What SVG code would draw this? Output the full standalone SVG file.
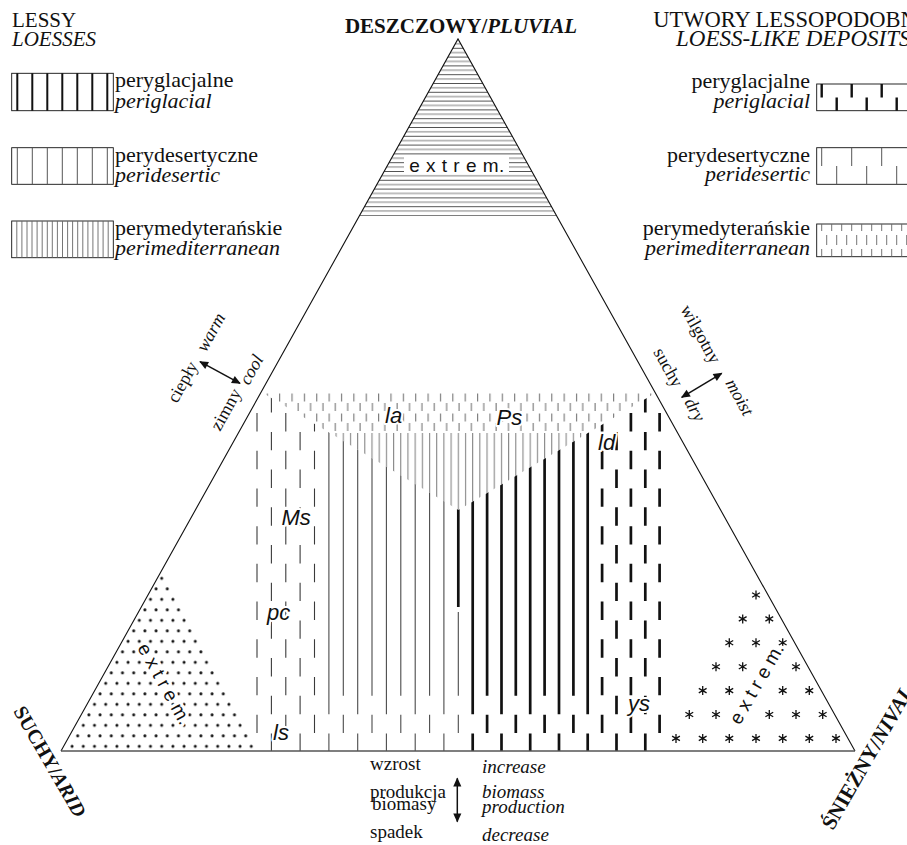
<svg xmlns="http://www.w3.org/2000/svg" width="907" height="845" viewBox="0 0 907 845">
<style>
.s{font-family:"Liberation Serif","Times New Roman",serif;fill:#111}
.i{font-style:italic}
.b{font-weight:bold}
.hd{font-size:21px}
.lg{font-size:22px}
.ar{font-size:18px}
.bt{font-size:19px}
.lab{font-family:"Liberation Sans",Arial,sans-serif;font-style:italic;font-size:22px;fill:#111;paint-order:stroke;stroke:#fff;stroke-width:4px;stroke-linejoin:round}
.ex{font-family:"Liberation Sans",Arial,sans-serif;font-size:19px;fill:#111}
.halo{paint-order:stroke;stroke:#fff;stroke-width:6px;stroke-linejoin:round}
.td{stroke:#3a3a3a;stroke-width:1.1;stroke-dasharray:18.4 19.3;fill:none}
.kd{stroke:#111;stroke-width:2.7;stroke-dasharray:18.4 19.3;fill:none}
.ts{stroke:#4a4a4a;stroke-width:1.1;fill:none}
.ks{stroke:#111;stroke-width:2.7;fill:none}
.box{fill:none;stroke:#111;stroke-width:0.9}
.arr{stroke:#111;stroke-width:1.5;fill:none;marker-start:url(#ah);marker-end:url(#ah)}
</style>
<defs>
<marker id="ah" viewBox="0 0 10 10" refX="9" refY="5" markerWidth="10" markerHeight="9" markerUnits="userSpaceOnUse" orient="auto-start-reverse"><path d="M0 0.5 L10 5 L0 9.5 Z" fill="#111"/></marker>
<pattern id="pTop" patternUnits="userSpaceOnUse" x="266.7" y="393" width="12.37" height="20"><path d="M0.6 0.5V8.5M6.785 10V18" stroke="#777" stroke-width="1.1"/></pattern>
<pattern id="pV" patternUnits="userSpaceOnUse" x="328.3" y="0" width="7.19" height="10"><path d="M0.6 0V10" stroke="#7a7a7a" stroke-width="1"/></pattern>
<pattern id="pHatch" patternUnits="userSpaceOnUse" x="0" y="215" width="10" height="8.8"><path d="M0 0.4H10" stroke="#111" stroke-width="0.8"/><path d="M0 4.8H10" stroke="#8a8a8a" stroke-width="1.1"/></pattern>
<pattern id="pDots" patternUnits="userSpaceOnUse" x="161.7" y="578.3" width="11.2" height="21"><g fill="#111"><circle cx="0" cy="0" r="1.5"/><circle cx="11.2" cy="0" r="1.5"/><circle cx="0" cy="21" r="1.5"/><circle cx="11.2" cy="21" r="1.5"/><circle cx="5.6" cy="10.5" r="1.5"/></g></pattern>
<clipPath id="reg"><path clip-rule="evenodd" d="M260.6 393 L655.4 393 L855 751 L61 751 Z M263 393 L655.3 393 L458.5 510 Z"/></clipPath>
<g id="ast"><path d="M0 -4.5V4.5M-3.9 -2.25L3.9 2.25M-3.9 2.25L3.9 -2.25" stroke="#111" stroke-width="1.3"/></g>
</defs>
<rect width="907" height="845" fill="#fff"/>

<!-- left legend -->
<g id="legend-loess">
<text class="s hd" x="12" y="26.7">LESSY</text>
<text class="s hd i" x="12" y="46">LOESSES</text>
<g id="leg-l1">
<rect class="box" x="11.7" y="73.3" width="101.6" height="37.4"/>
<path d="M17.3 73.3V110.7M32.3 73.3V110.7M47.3 73.3V110.7M62.3 73.3V110.7M77.3 73.3V110.7M92.3 73.3V110.7M107.3 73.3V110.7" stroke="#111" stroke-width="2"/>
<text class="s lg" x="115" y="87.3">peryglacjalne</text>
<text class="s lg i" x="115" y="108.3">periglacial</text>
</g>
<g id="leg-l2">
<rect class="box" x="11.7" y="147.7" width="101.6" height="36.6"/>
<path d="M17.3 147.7V184.3M32.3 147.7V184.3M47.3 147.7V184.3M62.3 147.7V184.3M77.3 147.7V184.3M92.3 147.7V184.3M107.3 147.7V184.3" stroke="#555" stroke-width="1"/>
<text class="s lg" x="115" y="161.7">perydesertyczne</text>
<text class="s lg i" x="115" y="181.7">peridesertic</text>
</g>
<g id="leg-l3">
<rect class="box" x="11.7" y="221" width="101.6" height="36.7"/>
<path d="M16.8 221V257.7M21.9 221V257.7M27 221V257.7M32 221V257.7M37.1 221V257.7M42.2 221V257.7M47.3 221V257.7M52.3 221V257.7M57.4 221V257.7M62.5 221V257.7M67.6 221V257.7M72.6 221V257.7M77.7 221V257.7M82.8 221V257.7M87.9 221V257.7M92.9 221V257.7M98 221V257.7M103.1 221V257.7M108.2 221V257.7" stroke="#666" stroke-width="0.9"/>
<text class="s lg" x="115" y="235">perymedyterańskie</text>
<text class="s lg i" x="115" y="255">perimediterranean</text>
</g>
</g>

<!-- right legend -->
<g id="legend-loesslike">
<text class="s" x="653.3" y="26.7" font-size="22.5">UTWORY LESSOPODOBNE</text>
<text class="s i" x="676" y="46" font-size="23">LOESS-LIKE DEPOSITS</text>
<g id="leg-r1">
<rect class="box" x="816.7" y="84" width="120" height="26.7"/>
<path d="M821.7 84V97.5M851.7 84V97.5M881.7 84V97.5M836.7 97.5V110.7M866.7 97.5V110.7M896.7 97.5V110.7" stroke="#111" stroke-width="2.4"/>
<text class="s lg" x="810" y="88.3" text-anchor="end">peryglacjalne</text>
<text class="s lg i" x="810" y="108.3" text-anchor="end">periglacial</text>
</g>
<g id="leg-r2">
<rect class="box" x="816.7" y="147.7" width="120" height="36.6"/>
<path d="M821.7 147.7V166M851.7 147.7V166M881.7 147.7V166M836.7 166V184.3M866.7 166V184.3M896.7 166V184.3" stroke="#555" stroke-width="1"/>
<text class="s lg" x="810" y="161.7" text-anchor="end">perydesertyczne</text>
<text class="s lg i" x="810" y="181" text-anchor="end">peridesertic</text>
</g>
<g id="leg-r3">
<rect class="box" x="816.7" y="224" width="120" height="32.7"/>
<path d="M821.7 224V231M831.7 224V231M841.7 224V231M851.7 224V231M861.7 224V231M871.7 224V231M881.7 224V231M891.7 224V231M901.7 224V231M826.7 235V245M836.7 235V245M846.7 235V245M856.7 235V245M866.7 235V245M876.7 235V245M886.7 235V245M896.7 235V245M906.7 235V245M821.7 249V256.7M831.7 249V256.7M841.7 249V256.7M851.7 249V256.7M861.7 249V256.7M871.7 249V256.7M881.7 249V256.7M891.7 249V256.7M901.7 249V256.7" stroke="#666" stroke-width="0.9"/>
<text class="s lg" x="810" y="235" text-anchor="end">perymedyterańskie</text>
<text class="s lg i" x="810" y="255" text-anchor="end">perimediterranean</text>
</g>
</g>

<!-- corner labels -->
<g id="corner-labels">
<text class="s b" font-size="21" x="461" y="33" text-anchor="middle">DESZCZOWY/<tspan class="i">PLUVIAL</tspan></text>
<text class="s b" font-size="20" transform="translate(13,711) rotate(60)">SUCHY/<tspan class="i">ARID</tspan></text>
<text class="s b" font-size="21" transform="translate(833,831) rotate(-60)">ŚNIEŻNY/<tspan class="i">NIVAL</tspan></text>
</g>

<!-- pluvial extreme -->
<g id="pluvial-extreme">
<path d="M458 39 L359.5 215.8 L556.5 215.8 Z" fill="url(#pHatch)"/>
<rect x="404" y="156" width="105" height="18" fill="#fff"/>
<text class="ex" x="457" y="172" text-anchor="middle" letter-spacing="0.5">e x t r e m.</text>
</g>

<!-- arid extreme -->
<g id="arid-extreme">
<path d="M161.7 573.3 L256.2 750.5 L67.2 750.5 Z" fill="url(#pDots)"/>
<text class="ex halo" transform="translate(164,684) rotate(61)" x="0" y="6" text-anchor="middle">e x t r e m.</text>
</g>

<!-- nival extreme -->
<g id="nival-extreme">
<use href="#ast" x="756" y="595"/>
<use href="#ast" x="742.7" y="618.9"/><use href="#ast" x="769.3" y="618.9"/>
<use href="#ast" x="729.3" y="642.8"/><use href="#ast" x="756" y="642.8"/><use href="#ast" x="782.7" y="642.8"/>
<use href="#ast" x="716" y="666.7"/><use href="#ast" x="742.7" y="666.7"/><use href="#ast" x="796" y="666.7"/>
<use href="#ast" x="702.7" y="690.6"/><use href="#ast" x="729.3" y="690.6"/><use href="#ast" x="782.7" y="690.6"/><use href="#ast" x="809.3" y="690.6"/>
<use href="#ast" x="689.3" y="714.5"/><use href="#ast" x="716" y="714.5"/><use href="#ast" x="769.3" y="714.5"/><use href="#ast" x="796" y="714.5"/><use href="#ast" x="822.7" y="714.5"/>
<use href="#ast" x="676" y="738.4"/><use href="#ast" x="702.7" y="738.4"/><use href="#ast" x="729.3" y="738.4"/><use href="#ast" x="756" y="738.4"/><use href="#ast" x="782.7" y="738.4"/><use href="#ast" x="809.3" y="738.4"/><use href="#ast" x="836" y="738.4"/>
<text class="ex halo" transform="translate(757,684) rotate(-60)" x="0" y="6" text-anchor="middle">e x t r e m.</text>
</g>

<!-- central field -->
<g id="perimediterranean">
<path d="M263 393 L655.3 393 L588 433 L330 433 Z" fill="url(#pTop)"/>
<path d="M330 433 L588 433 L458.5 510 Z" fill="url(#pV)"/>
</g>
<g id="columns" clip-path="url(#reg)">
<line class="td" x1="257" y1="375.35" x2="257" y2="751"/>
<line class="td" x1="271.4" y1="394.2" x2="271.4" y2="751"/>
<line class="td" x1="285.8" y1="375.35" x2="285.8" y2="751"/>
<line class="td" x1="300.1" y1="394.2" x2="300.1" y2="751"/>
<line class="td" x1="314.5" y1="375.35" x2="314.5" y2="751"/>
<path class="ts" d="M328.9 393V714.2M328.9 733.5V751M357.7 393V714.2M357.7 733.5V751M386.4 393V714.2M386.4 733.5V751M415.2 393V714.2M415.2 733.5V751M443.9 393V714.2M443.9 733.5V751M343.3 393V695.8M343.3 714.65V733.05M372 393V695.8M372 714.65V733.05M400.8 393V695.8M400.8 714.65V733.05M429.6 393V695.8M429.6 714.65V733.05M458.3 612V695.8M458.3 714.65V733.05"/>
<path class="ks" d="M458.3 393V607M472.7 393V714.2M472.7 733.5V751M501.5 393V714.2M501.5 733.5V751M530.2 393V714.2M530.2 733.5V751M559 393V714.2M559 733.5V751M587.7 393V714.2M587.7 733.5V751M487.1 393V695.8M487.1 714.65V733.05M515.8 393V695.8M515.8 714.65V733.05M544.6 393V695.8M544.6 714.65V733.05M573.4 393V695.8M573.4 714.65V733.05"/>
<line class="kd" x1="602.1" y1="375.35" x2="602.1" y2="751"/>
<line class="kd" x1="616.5" y1="394.2" x2="616.5" y2="751"/>
<line class="kd" x1="630.9" y1="375.35" x2="630.9" y2="751"/>
<line class="kd" x1="645.3" y1="394.2" x2="645.3" y2="751"/>
<line class="kd" x1="659.6" y1="375.35" x2="659.6" y2="751"/>
</g>
<g id="field-labels">
<text class="lab" x="385" y="423">la</text>
<text class="lab" x="496.5" y="424.5">Ps</text>
<text class="lab" x="598" y="450">ld</text>
<text class="lab" x="281.5" y="525">Ms</text>
<text class="lab" x="267" y="620">pc</text>
<text class="lab" x="273" y="740">ls</text>
<text class="lab" x="628" y="711">ys</text>
</g>

<!-- triangle -->
<g id="triangle">
<path d="M61 751 L458 39 L855 751" fill="none" stroke="#111" stroke-width="1.1"/>
<path d="M61 751 H855" stroke="#555" stroke-width="1.6"/>
</g>

<!-- gradient arrows -->
<g id="connectors">
<line class="arr" x1="200" y1="361.7" x2="240" y2="383.3"/>
<line class="arr" x1="681.7" y1="397.3" x2="721.7" y2="373.3"/>
<line class="arr" x1="457.3" y1="778.3" x2="457.3" y2="821.7"/>
</g>
<g id="temp-labels">
<text class="s ar" transform="translate(177,404) rotate(-61)">ciepły</text>
<text class="s ar i" transform="translate(206,353) rotate(-61)">warm</text>
<text class="s ar" transform="translate(220,432) rotate(-61)">zimny</text>
<text class="s ar i" transform="translate(249,386) rotate(-61)">cool</text>
</g>
<g id="moist-labels">
<text class="s ar" transform="translate(680,309) rotate(61)">wilgotny</text>
<text class="s ar i" transform="translate(725,383) rotate(61)">moist</text>
<text class="s ar" transform="translate(653,352) rotate(61)">suchy</text>
<text class="s ar i" transform="translate(684,402) rotate(61)">dry</text>
</g>
<g id="biomass-labels">
<text class="s bt" x="370" y="770">wzrost</text>
<text class="s bt" x="370" y="798">produkcja</text>
<text class="s bt" x="372" y="810">biomasy</text>
<text class="s bt" x="370" y="838">spadek</text>
<text class="s bt i" x="482" y="773">increase</text>
<text class="s bt i" x="482" y="798">biomass</text>
<text class="s bt i" x="482" y="813">production</text>
<text class="s bt i" x="482" y="841">decrease</text>
</g>
</svg>
